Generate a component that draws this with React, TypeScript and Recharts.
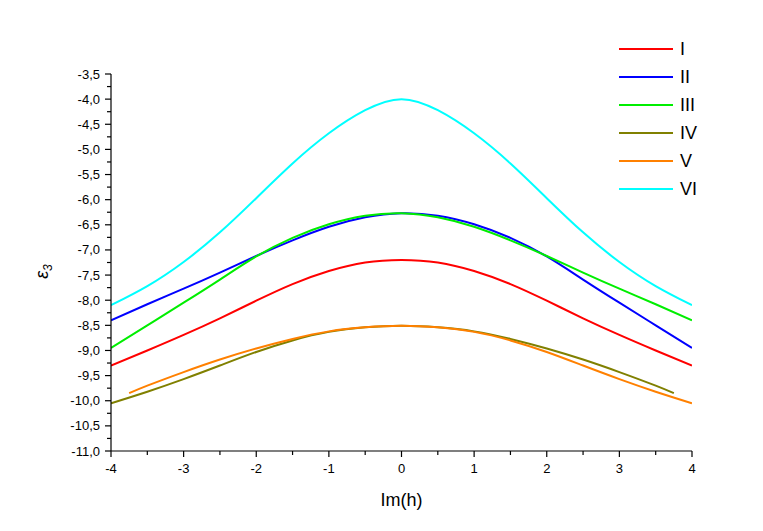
import React from "react";
import { LineChart, Line, XAxis, YAxis, Legend, Label } from "recharts";

// x grids for the curves (IV stops at 3.75, V starts at -3.75)
const xFull = [-4, -3.5, -3, -2.5, -2, -1.5, -1, -0.5, 0, 0.5, 1, 1.5, 2, 2.5, 3, 3.5, 4];
const xIV = [-4, -3.5, -3, -2.5, -2, -1.5, -1, -0.5, 0, 0.5, 1, 1.5, 2, 2.5, 3, 3.5, 3.75];
const xV = [-3.75, -3.5, -3, -2.5, -2, -1.5, -1, -0.5, 0, 0.5, 1, 1.5, 2, 2.5, 3, 3.5, 4];

const valsI = [-9.3, -9.0, -8.69, -8.36, -8.01, -7.68, -7.42, -7.25, -7.2, -7.25, -7.42, -7.68, -8.01, -8.36, -8.69, -9.0, -9.3];
const valsII = [-8.4, -8.08, -7.77, -7.45, -7.12, -6.81, -6.54, -6.35, -6.27, -6.32, -6.49, -6.76, -7.13, -7.59, -8.05, -8.5, -8.95];
const valsIII = [-8.95, -8.5, -8.05, -7.59, -7.13, -6.76, -6.49, -6.32, -6.27, -6.35, -6.54, -6.81, -7.12, -7.45, -7.77, -8.08, -8.4];
const valsIV = [-10.05, -9.82, -9.57, -9.3, -9.03, -8.8, -8.63, -8.54, -8.51, -8.54, -8.62, -8.77, -8.96, -9.18, -9.43, -9.7, -9.85];
const valsV = [-9.85, -9.7, -9.43, -9.18, -8.96, -8.77, -8.62, -8.54, -8.51, -8.54, -8.63, -8.8, -9.03, -9.3, -9.57, -9.82, -10.05];
const valsVI = [-8.1, -7.72, -7.24, -6.65, -5.97, -5.28, -4.68, -4.22, -4.0, -4.22, -4.68, -5.28, -5.97, -6.65, -7.24, -7.72, -8.1];

const xTicks = [-4, -3.5, -3, -2.5, -2, -1.5, -1, -0.5, 0, 0.5, 1, 1.5, 2, 2.5, 3, 3.5, 4];
const yTicks = [
  -11, -10.75, -10.5, -10.25, -10, -9.75, -9.5, -9.25, -9, -8.75, -8.5, -8.25, -8, -7.75, -7.5, -7.25,
  -7, -6.75, -6.5, -6.25, -6, -5.75, -5.5, -5.25, -5, -4.75, -4.5, -4.25, -4, -3.75, -3.5,
];

const toPoints = (xs: number[], ys: number[]) => xs.map((x, i) => ({ x, y: ys[i] }));

const series = [
  { name: "I", color: "#ff0000", data: toPoints(xFull, valsI) },
  { name: "II", color: "#0000ff", data: toPoints(xFull, valsII) },
  { name: "III", color: "#00ee00", data: toPoints(xFull, valsIII) },
  { name: "IV", color: "#808000", data: toPoints(xIV, valsIV) },
  { name: "V", color: "#ff8000", data: toPoints(xV, valsV) },
  { name: "VI", color: "#00ffff", data: toPoints(xFull, valsVI) },
];

const FONT = "'Liberation Sans', Arial, sans-serif";

function XTick(props: any) {
  const { x, y, payload } = props;
  const v = payload.value as number;
  const major = Number.isInteger(v);
  return (
    <g>
      <line x1={x} y1={y} x2={x} y2={y + (major ? 6 : 4)} stroke="#000" strokeWidth={1.2} />
      {major && (
        <text x={x} y={y + 22} textAnchor="middle" fontSize={13} fontFamily={FONT} fill="#000">
          {v}
        </text>
      )}
    </g>
  );
}

function YTick(props: any) {
  const { x, y, payload } = props;
  const v = payload.value as number;
  const major = Math.abs(v * 2 - Math.round(v * 2)) < 1e-9;
  return (
    <g>
      <line x1={x} y1={y} x2={x - (major ? 6 : 4)} y2={y} stroke="#000" strokeWidth={1.2} />
      {major && (
        <text x={x - 11} y={y} dy="0.35em" textAnchor="end" fontSize={13} fontFamily={FONT} fill="#000">
          {v.toFixed(1).replace(".", ",")}
        </text>
      )}
    </g>
  );
}

function YLabel(props: any) {
  const { viewBox } = props;
  const cx = viewBox.x - 3;
  const cy = viewBox.y + viewBox.height / 2 + 9;
  return (
    <text
      transform={`translate(${cx},${cy}) rotate(-90)`}
      textAnchor="middle"
      fontFamily={FONT}
      fontStyle="italic"
      fontSize={18}
      fill="#000"
    >
      <tspan>ε</tspan>
      <tspan fontSize={12} dy={4}>3</tspan>
    </text>
  );
}

function LegendBox() {
  return (
    <div style={{ fontFamily: FONT }}>
      {series.map((s) => (
        <div key={s.name} style={{ display: "flex", alignItems: "center", height: 28 }}>
          <div style={{ width: 54, height: 2, background: s.color }} />
          <span style={{ marginLeft: 7, fontSize: 18, color: "#000", lineHeight: "28px" }}>{s.name}</span>
        </div>
      ))}
    </div>
  );
}

export default function App() {
  return (
    <div style={{ position: "absolute", left: 0, top: 0 }}>
      <LineChart width={763} height={531} margin={{ top: 74, right: 71, bottom: 20, left: 51 }}>
        <XAxis
          dataKey="x"
          type="number"
          domain={[-4, 4]}
          ticks={xTicks}
          interval={0}
          allowDataOverflow
          height={60}
          tickSize={0}
          tickMargin={0}
          tickLine={false}
          tick={<XTick />}
          axisLine={{ stroke: "#000", strokeWidth: 1.2 }}
        >
          <Label
            value="Im(h)"
            position="insideBottom"
            offset={5}
            fontSize={18}
            fontFamily={FONT}
            fill="#000"
          />
        </XAxis>
        <YAxis
          type="number"
          domain={[-11, -3.5]}
          ticks={yTicks}
          interval={0}
          allowDataOverflow
          width={60}
          tickSize={0}
          tickMargin={0}
          tickLine={false}
          tick={<YTick />}
          axisLine={{ stroke: "#000", strokeWidth: 1.2 }}
        >
          <Label content={<YLabel />} />
        </YAxis>
        <Legend
          layout="vertical"
          align="center"
          verticalAlign="middle"
          wrapperStyle={{ left: 619, top: 35, width: 120 }}
          content={<LegendBox />}
        />
        {series.map((s) => (
          <Line
            key={s.name}
            name={s.name}
            data={s.data}
            dataKey="y"
            type="natural"
            stroke={s.color}
            strokeWidth={2}
            dot={false}
            activeDot={false}
            isAnimationActive={false}
          />
        ))}
      </LineChart>
    </div>
  );
}
